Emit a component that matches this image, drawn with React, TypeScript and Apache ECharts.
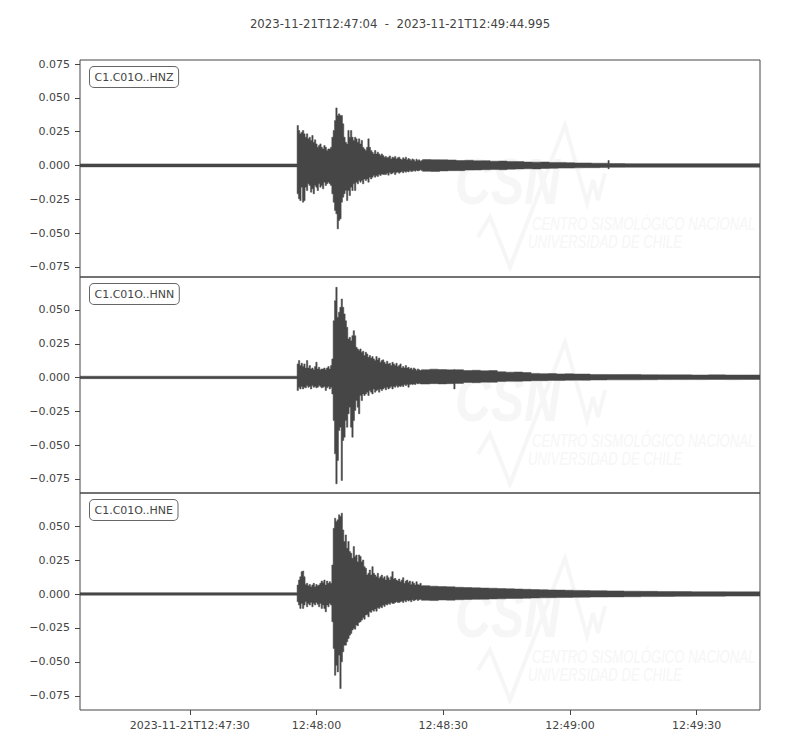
import React, { useEffect, useRef } from "react";
import * as echarts from "echarts";

// ---------- text ----------
const TITLE = "2023-11-21T12:47:04  -  2023-11-21T12:49:44.995";
const STATIONS = ["C1.C01O..HNZ", "C1.C01O..HNN", "C1.C01O..HNE"];
const WM_LOGO = "CSN";
const WM_LINE1 = "CENTRO SISMOLÓGICO NACIONAL";
const WM_LINE2 = "UNIVERSIDAD DE CHILE";

// ---------- axes (seconds after 2023-11-21T12:47:04) ----------
const T_END = 160.995;
const xTickValues = [26, 56, 86, 116, 146];
const xTickLabels = ["2023-11-21T12:47:30", "12:48:00", "12:48:30", "12:49:00", "12:49:30"];
const yLimits = [
  [-0.0824, 0.078],
  [-0.0854, 0.0744],
  [-0.0855, 0.0745],
];
const yTicksZ = [-0.075, -0.05, -0.025, 0, 0.025, 0.05, 0.075];
const yTicksNE = [-0.075, -0.05, -0.025, 0, 0.025, 0.05];

// ---------- waveform envelopes (min / max per sample window) ----------
const ONSET = 51.4;
const FINE_STEP = 0.316;

const hnzPre = { lo: -0.001, hi: 0.0012 };
const hnzFineHi = [
  0.0296, 0.0259, 0.0234, 0.0246, 0.0259, 0.0234, 0.0209, 0.0234, 0.0197, 0.0209,
  0.0185, 0.0222, 0.0172, 0.019, 0.016, 0.0135, 0.0148, 0.016, 0.0135, 0.0123,
  0.0148, 0.0135, 0.0111, 0.0123, 0.0123, 0.0135, 0.0209, 0.0259, 0.0333, 0.0426,
  0.037, 0.0382, 0.037, 0.037, 0.0308, 0.0209, 0.0172, 0.016, 0.0259, 0.0209,
  0.0259, 0.0209, 0.0185, 0.0209, 0.0197, 0.0172, 0.0197, 0.016, 0.0185, 0.0135,
  0.0123, 0.0111, 0.0135, 0.0197, 0.0135, 0.0111, 0.0099, 0.0086, 0.0111, 0.0086,
  0.0099, 0.0086, 0.0074, 0.0086, 0.0074, 0.0062,
  0.0067, 0.0057, 0.0062, 0.0071, 0.0049, 0.0062, 0.0057, 0.0067, 0.0049, 0.0057,
  0.0062, 0.0049, 0.0042, 0.0057, 0.0049, 0.0062, 0.0042, 0.0052, 0.0047, 0.0037,
  0.0049, 0.0042, 0.0032, 0.0047, 0.0037, 0.0042, 0.0032, 0.0037,
];
const hnzFineLo = [
  -0.0209, -0.0246, -0.0259, -0.016, -0.0271, -0.0259, -0.016, -0.0185, -0.0135, -0.0148,
  -0.0197, -0.0172, -0.0209, -0.0148, -0.016, -0.0185, -0.0135, -0.016, -0.0148, -0.0172,
  -0.0123, -0.0148, -0.0135, -0.0123, -0.0135, -0.0148, -0.0209, -0.0271, -0.0333, -0.0357,
  -0.0468, -0.0406, -0.0394, -0.0271, -0.0234, -0.0209, -0.0185, -0.0259, -0.0185, -0.0222,
  -0.016, -0.0185, -0.0135, -0.0185, -0.0123, -0.0135, -0.0111, -0.0123, -0.0111, -0.0135,
  -0.0099, -0.0111, -0.0099, -0.0123, -0.0086, -0.0099, -0.0086, -0.0074, -0.0086, -0.0074,
  -0.0081, -0.0067, -0.0074, -0.0062, -0.0067, -0.0067,
  -0.0067, -0.0057, -0.0071, -0.0052, -0.0062, -0.0057, -0.0049, -0.0067, -0.0052, -0.0047,
  -0.0057, -0.0049, -0.0044, -0.0054, -0.0042, -0.0049, -0.0042, -0.0047, -0.0037, -0.0044,
  -0.0042, -0.0037, -0.0042, -0.0035, -0.004, -0.0037, -0.0032, -0.0037,
];
const hnzCodaT = [
  81.1, 83.1, 85.1, 87.1, 89.1, 91.1, 93.1, 95.1, 97.1, 99.1, 101.1, 103.1, 105.1, 107.1,
  109.1, 111.1, 113.1, 115.1, 117.1, 119.1, 121.1, 123.1, 125.0, 125.3, 129.0, 160.995,
];
const hnzCodaHi = [
  0.0044, 0.0043, 0.0042, 0.0041, 0.0037, 0.0039, 0.0035, 0.0036, 0.0032, 0.0033, 0.003,
  0.0029, 0.0026, 0.0025, 0.0026, 0.0023, 0.0023, 0.0021, 0.0019, 0.0019, 0.0017, 0.0017,
  0.0037, 0.0015, 0.0014,
];
const hnzCodaLo = [
  -0.0043, -0.0044, -0.004, -0.0038, -0.0038, -0.0034, -0.0033, -0.0031, -0.003, -0.0031,
  -0.0027, -0.0025, -0.0024, -0.0025, -0.0022, -0.0021, -0.0019, -0.0019, -0.0017, -0.0016,
  -0.0016, -0.0015, -0.0024, -0.0013, -0.0012,
];

const hnnPre = { lo: -0.0008, hi: 0.001 };
const hnnFineHi = [
  0.0101, 0.0126, 0.0089, 0.0106, 0.0081, 0.0101, 0.0071, 0.0126, 0.0071, 0.0089,
  0.0064, 0.0071, 0.0057, 0.0081, 0.0113, 0.0064, 0.0076, 0.0057, 0.0064, 0.0064,
  0.0071, 0.0057, 0.0071, 0.0081, 0.0064, 0.0089, 0.0138, 0.0421, 0.0569, 0.0668,
  0.0446, 0.0483, 0.052, 0.0581, 0.052, 0.0471, 0.0421, 0.0372, 0.0286, 0.0298,
  0.0273, 0.031, 0.0347, 0.031, 0.0224, 0.0212, 0.02, 0.0212, 0.0187, 0.0195,
  0.0163, 0.0187, 0.0175, 0.015, 0.0163, 0.0145, 0.0155, 0.0138, 0.0126, 0.0155,
  0.0131, 0.0145, 0.0113, 0.0126, 0.0131, 0.0113, 0.0101, 0.0121, 0.0101, 0.0106,
  0.0089, 0.0113, 0.0101, 0.0089, 0.0106, 0.0081, 0.0089, 0.0101, 0.0071, 0.0081,
  0.0071, 0.0089, 0.0071, 0.0076, 0.0064, 0.0071, 0.0057, 0.0071, 0.0064, 0.0052,
  0.0064, 0.0057, 0.0052,
];
const hnnFineLo = [
  -0.0096, -0.0071, -0.0084, -0.0067, -0.0084, -0.0071, -0.0076, -0.0059, -0.0071, -0.0067,
  -0.0084, -0.0059, -0.0071, -0.0067, -0.0076, -0.0071, -0.0059, -0.0067, -0.0076, -0.0071,
  -0.0067, -0.0096, -0.0076, -0.0067, -0.0084, -0.0071, -0.0121, -0.0318, -0.0564, -0.0786,
  -0.0613, -0.0392, -0.0367, -0.0761, -0.0466, -0.0441, -0.0318, -0.0367, -0.0268, -0.0219,
  -0.0367, -0.0441, -0.0318, -0.0244, -0.017, -0.0219, -0.0268, -0.0133, -0.017, -0.0121,
  -0.0133, -0.0121, -0.0108, -0.0133, -0.0096, -0.0108, -0.0121, -0.0084, -0.0108, -0.0096,
  -0.0091, -0.0108, -0.0084, -0.0096, -0.0084, -0.0076, -0.0091, -0.0071, -0.0084, -0.0076,
  -0.0067, -0.0084, -0.0067, -0.0071, -0.0059, -0.0071, -0.0062, -0.0067, -0.0059, -0.0067,
  -0.0052, -0.0059, -0.0052, -0.0071, -0.0052, -0.0047, -0.0052, -0.0047, -0.0052, -0.0042,
  -0.0047, -0.0042, -0.0047,
];
const hnnCodaT = [
  80.8, 82.8, 84.8, 86.8, 88.5, 88.8, 90.8, 92.8, 94.8, 96.8, 98.8, 100.8, 102.8, 104.8,
  106.8, 108.8, 110.8, 112.8, 114.8, 116.8, 118.8, 120.8, 124.8, 128.8, 132.8, 136.8,
  140.8, 144.8, 148.8, 152.8, 156.8, 160.995,
];
const hnnCodaHi = [
  0.0058, 0.0062, 0.0059, 0.0057, 0.006, 0.0058, 0.0052, 0.0054, 0.005, 0.0052, 0.0043,
  0.004, 0.0041, 0.0037, 0.0031, 0.0029, 0.003, 0.0027, 0.0028, 0.0026, 0.0026, 0.0023,
  0.0022, 0.0023, 0.0021, 0.002, 0.002, 0.0019, 0.002, 0.0019, 0.0019,
];
const hnnCodaLo = [
  -0.0048, -0.0045, -0.0047, -0.0045, -0.0084, -0.0043, -0.0036, -0.0038, -0.0034, -0.0035,
  -0.0029, -0.0027, -0.0028, -0.0026, -0.0023, -0.0023, -0.0021, -0.0022, -0.002, -0.0019,
  -0.002, -0.0018, -0.0017, -0.0017, -0.0016, -0.0015, -0.0015, -0.0015, -0.0014, -0.0015,
  -0.0014,
];

const hnePre = { lo: -0.0008, hi: 0.001 };
const hneFineHi = [
  0.0067, 0.0103, 0.0128, 0.0165, 0.017, 0.0128, 0.0071, 0.0079, 0.0062, 0.0071,
  0.0054, 0.0067, 0.0079, 0.0054, 0.0071, 0.0062, 0.0067, 0.0079, 0.0096, 0.0086,
  0.0103, 0.0067, 0.0096, 0.0079, 0.0091, 0.0079, 0.0214, 0.0485, 0.0559, 0.0535,
  0.0547, 0.0584, 0.0571, 0.0596, 0.0473, 0.0387, 0.0436, 0.0337, 0.0387, 0.0313,
  0.0301, 0.0264, 0.035, 0.0276, 0.0288, 0.0239, 0.0288, 0.0276, 0.0239, 0.0251,
  0.0202, 0.019, 0.014, 0.0153, 0.0177, 0.014, 0.0202, 0.0153, 0.014, 0.0128,
  0.0153, 0.0116, 0.0128, 0.014, 0.0116, 0.0128, 0.0103, 0.0135, 0.0121, 0.0103,
  0.0128, 0.0165, 0.0111, 0.0116, 0.0103, 0.0096, 0.0111, 0.0091, 0.0103, 0.0121,
  0.0079, 0.0096, 0.0103, 0.0086, 0.0096, 0.0071, 0.0091, 0.0079, 0.0067, 0.0091,
  0.0071, 0.0067, 0.0079,
];
const hneFineLo = [
  -0.0057, -0.0081, -0.0106, -0.0069, -0.0106, -0.0081, -0.0057, -0.0094, -0.0069, -0.0081,
  -0.0062, -0.0094, -0.0069, -0.0081, -0.0062, -0.0076, -0.0094, -0.0069, -0.0106, -0.0081,
  -0.0106, -0.0131, -0.0081, -0.0094, -0.0069, -0.0081, -0.0204, -0.0402, -0.0599, -0.0525,
  -0.0574, -0.0451, -0.0697, -0.05, -0.0426, -0.0377, -0.0377, -0.0352, -0.0328, -0.0303,
  -0.0291, -0.0266, -0.0254, -0.0259, -0.0229, -0.0234, -0.0209, -0.0204, -0.0192, -0.0175,
  -0.0185, -0.0155, -0.015, -0.0168, -0.0131, -0.0135, -0.0118, -0.0126, -0.0111, -0.0126,
  -0.0101, -0.0106, -0.0094, -0.0101, -0.0081, -0.0091, -0.0076, -0.0081, -0.0069, -0.0076,
  -0.0062, -0.0069, -0.0069, -0.0062, -0.0057, -0.0062, -0.0062, -0.0057, -0.0052, -0.0062,
  -0.0047, -0.0057, -0.0044, -0.0052, -0.0044, -0.0057, -0.0042, -0.0049, -0.0044, -0.0039,
  -0.0047, -0.0042, -0.0039,
];
const hneCodaT = [
  80.8, 82.8, 84.8, 86.8, 88.8, 90.8, 92.8, 94.8, 96.8, 98.8, 100.8, 102.8, 104.8, 106.8,
  108.8, 110.8, 112.8, 114.8, 116.8, 118.8, 120.8, 124.8, 128.8, 132.8, 136.8, 140.8,
  144.8, 148.8, 152.8, 156.8, 160.995,
];
const hneCodaHi = [
  0.0062, 0.0058, 0.0055, 0.0053, 0.005, 0.0048, 0.0046, 0.0044, 0.0043, 0.0041, 0.0039,
  0.0037, 0.0035, 0.0033, 0.0032, 0.003, 0.0029, 0.0028, 0.0027, 0.0026, 0.0025, 0.0023,
  0.0021, 0.002, 0.0019, 0.0018, 0.0017, 0.0017, 0.0016, 0.0016,
];
const hneCodaLo = [
  -0.0046, -0.0048, -0.0044, -0.0045, -0.0042, -0.004, -0.0039, -0.0038, -0.0036, -0.0035,
  -0.0033, -0.0032, -0.0031, -0.0029, -0.0028, -0.0027, -0.0026, -0.0025, -0.0024, -0.0023,
  -0.0022, -0.0021, -0.002, -0.0019, -0.0018, -0.0017, -0.0016, -0.0016, -0.0015, -0.0015,
];

// ---------- styling / layout ----------
const FONT = "DejaVu Sans";
const TEXT_COLOR = "#444";
const LINE_COLOR = "#444";
const WAVE_COLOR = "#464646";
const WM_COLOR = "#f6f6f6";
const PANEL_LEFT = 80;
const PANEL_WIDTH = 680;
const PANEL_TOPS = [60, 277, 493];
const PANEL_HEIGHTS = [217, 216, 217];

type Item = [number, number, number, number];

function buildTrace(
  pre: { lo: number; hi: number },
  fineHi: number[],
  fineLo: number[],
  codaT: number[],
  codaHi: number[],
  codaLo: number[]
): Item[] {
  const items: Item[] = [[0, ONSET, pre.lo, pre.hi]];
  for (let i = 0; i < fineHi.length; i++) {
    const t0 = ONSET + i * FINE_STEP;
    items.push([t0, t0 + FINE_STEP, fineLo[i], fineHi[i]]);
  }
  for (let j = 0; j < codaHi.length; j++) {
    items.push([codaT[j], codaT[j + 1], codaLo[j], codaHi[j]]);
  }
  return items;
}

const fmtY = (v: number) => {
  const s = Math.abs(v) < 1e-12 ? "0.000" : v.toFixed(3);
  return s.replace("-", "\u2212");
};

export default function App() {
  const ref = useRef<HTMLDivElement>(null);

  useEffect(() => {
    if (!ref.current) return;
    const chart = echarts.init(ref.current, undefined, { renderer: "svg" });

    const traces = [
      buildTrace(hnzPre, hnzFineHi, hnzFineLo, hnzCodaT, hnzCodaHi, hnzCodaLo),
      buildTrace(hnnPre, hnnFineHi, hnnFineLo, hnnCodaT, hnnCodaHi, hnnCodaLo),
      buildTrace(hnePre, hneFineHi, hneFineLo, hneCodaT, hneCodaHi, hneCodaLo),
    ];

    const grids = PANEL_TOPS.map((top, i) => ({
      left: PANEL_LEFT,
      top,
      width: PANEL_WIDTH,
      height: PANEL_HEIGHTS[i],
      show: true,
      borderColor: LINE_COLOR,
      borderWidth: 1,
      backgroundColor: "transparent",
      z: 3,
    }));

    const xAxes = PANEL_TOPS.map((_, i) => {
      const last = i === PANEL_TOPS.length - 1;
      return {
        type: "value",
        gridIndex: i,
        position: "bottom",
        min: 0,
        max: T_END,
        splitLine: { show: false },
        axisLine: { show: false, onZero: false },
        axisTick: {
          show: last,
          length: 5,
          inside: false,
          customValues: xTickValues,
          lineStyle: { color: LINE_COLOR, width: 1 },
        },
        axisLabel: {
          show: last,
          customValues: xTickValues,
          margin: 10,
          color: TEXT_COLOR,
          fontFamily: FONT,
          fontSize: 11,
          formatter: (v: number) => {
            const k = xTickValues.indexOf(v);
            return k >= 0 ? xTickLabels[k] : "";
          },
        },
      };
    });

    const yAxes = PANEL_TOPS.map((_, i) => {
      const ticks = i === 0 ? yTicksZ : yTicksNE;
      return {
        type: "value",
        gridIndex: i,
        position: "left",
        min: yLimits[i][0],
        max: yLimits[i][1],
        splitLine: { show: false },
        axisLine: { show: false, onZero: false },
        axisTick: {
          show: true,
          length: 5,
          inside: false,
          customValues: ticks,
          lineStyle: { color: LINE_COLOR, width: 1 },
        },
        axisLabel: {
          show: true,
          customValues: ticks,
          margin: 10,
          color: TEXT_COLOR,
          fontFamily: FONT,
          fontSize: 11,
          formatter: fmtY,
        },
      };
    });

    // One filled outline per trace: upper envelope forward, lower envelope back.
    const series = traces.map((data, i) => ({
      type: "custom",
      xAxisIndex: i,
      yAxisIndex: i,
      coordinateSystem: "cartesian2d",
      clip: true,
      silent: true,
      z: 2,
      encode: { x: [0, 1], y: [2, 3] },
      data,
      renderItem: (params: any, api: any) => {
        if (params.dataIndex !== 0) return null;
        const upper: number[][] = [];
        const lower: number[][] = [];
        for (const [t0, t1, lo, hi] of data) {
          upper.push(api.coord([t0, hi]), api.coord([t1, hi]));
          lower.push(api.coord([t0, lo]), api.coord([t1, lo]));
        }
        const points = upper.concat(lower.reverse());
        return {
          type: "polygon",
          shape: { points },
          style: { fill: WAVE_COLOR, stroke: WAVE_COLOR, lineWidth: 0.5 },
        };
      },
    }));

    const graphic: any[] = [];
    PANEL_TOPS.forEach((top, i) => {
      // faint watermark
      graphic.push({
        type: "polyline",
        z: 0,
        silent: true,
        shape: {
          points: [
            [478, top + 177],
            [490, top + 157],
            [510, top + 207],
            [565, top + 65],
            [587, top + 143],
            [593, top + 120],
            [598, top + 140],
            [605, top + 113],
          ],
        },
        style: { stroke: WM_COLOR, lineWidth: 4, fill: null },
      });
      graphic.push({
        type: "text",
        z: 0,
        silent: true,
        x: 455,
        y: top + 122,
        scaleX: 0.78,
        style: {
          text: WM_LOGO,
          fill: WM_COLOR,
          fontFamily: "Liberation Sans",
          fontStyle: "italic",
          fontWeight: "bold",
          fontSize: 64,
          align: "left",
          verticalAlign: "middle",
        },
      });
      graphic.push({
        type: "text",
        z: 0,
        silent: true,
        x: 532,
        y: top + 164,
        scaleX: 0.73,
        style: {
          text: WM_LINE1,
          fill: WM_COLOR,
          fontFamily: "Liberation Sans",
          fontStyle: "italic",
          fontSize: 18,
          align: "left",
          verticalAlign: "middle",
        },
      });
      graphic.push({
        type: "text",
        z: 0,
        silent: true,
        x: 528,
        y: top + 182,
        scaleX: 0.73,
        style: {
          text: WM_LINE2,
          fill: WM_COLOR,
          fontFamily: "Liberation Sans",
          fontStyle: "italic",
          fontSize: 18,
          align: "left",
          verticalAlign: "middle",
        },
      });
      // station label box
      graphic.push({
        type: "text",
        z: 10,
        x: 90,
        y: top + 17,
        style: {
          text: STATIONS[i],
          fill: TEXT_COLOR,
          fontFamily: FONT,
          fontSize: 11,
          lineHeight: 13,
          align: "left",
          verticalAlign: "middle",
          backgroundColor: "#ffffff",
          borderColor: "#666",
          borderWidth: 1,
          borderRadius: 4,
          padding: [3.5, 4.5, 3.5, 4.5],
        },
      });
    });

    chart.setOption({
      animation: false,
      backgroundColor: "#ffffff",
      title: {
        text: TITLE,
        left: "center",
        top: 13,
        textStyle: {
          fontFamily: FONT,
          fontSize: 11.7,
          fontWeight: "normal",
          color: TEXT_COLOR,
        },
      },
      grid: grids,
      xAxis: xAxes,
      yAxis: yAxes,
      series,
      graphic,
    } as any);

    return () => chart.dispose();
  }, []);

  return (
    <div
      ref={ref}
      style={{ position: "fixed", left: 0, top: 0, width: 800, height: 750 }}
    />
  );
}
